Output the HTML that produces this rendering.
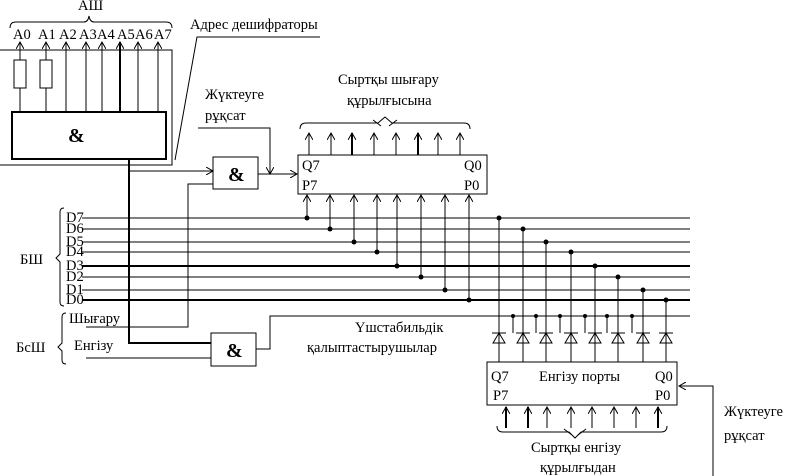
<!DOCTYPE html>
<html><head><meta charset="utf-8"><style>
html,body{margin:0;padding:0;background:#fff;}
svg{display:block;font-family:"Liberation Serif",serif;}
text{font-size:14.5px;fill:#000;}
</style></head><body>
<svg width="786" height="476" viewBox="0 0 786 476" xmlns="http://www.w3.org/2000/svg">
<defs>
<marker id="a" markerWidth="8" markerHeight="8" refX="7" refY="4" orient="auto" markerUnits="userSpaceOnUse">
<path d="M0,0 L7,4 L0,8" fill="none" stroke="#000" stroke-width="1"/></marker>
</defs>
<g stroke="#000" fill="none" stroke-width="1">
<text x="78" y="10" stroke="none">АШ</text>
<path d="M10,28 Q10,22 16,22 L84,22 Q88,22 89,16 Q90,22 94,22 L166,22 Q172,22 172,28"/>
<path d="M0,50 H172 V165 H0"/>
<rect x="12" y="112" width="154" height="47" stroke-width="2"/>
<text x="68" y="142" stroke="none" style="font-size:20px;font-weight:bold">&amp;</text>
<path d="M20,112 V88 M20,60 V42" marker-end="url(#a)"/>
<rect x="14" y="60" width="12" height="28"/>
<path d="M46,112 V88 M46,60 V42" marker-end="url(#a)"/>
<rect x="40" y="60" width="12" height="28"/>
<path d="M66,112 V42" marker-end="url(#a)"/>
<path d="M86,112 V42" marker-end="url(#a)"/>
<path d="M102,112 V42" marker-end="url(#a)"/>
<path d="M120,112 V42" stroke-width="2" marker-end="url(#a)"/>
<path d="M138,112 V42" marker-end="url(#a)"/>
<path d="M158,112 V42" marker-end="url(#a)"/>
<g stroke="none" style="font-size:13px">
<text x="13" y="39">А0</text><text x="38" y="39">А1</text><text x="59" y="39">А2</text><text x="79" y="39">А3</text>
<text x="97" y="39">А4</text><text x="117" y="39">А5</text><text x="135" y="39">А6</text><text x="154" y="39">А7</text>
</g>
<path d="M175,160 L197,37 H320"/>
<text x="190" y="29" stroke="none">Адрес дешифраторы</text>
<text x="205" y="99" stroke="none">Жүктеуге</text>
<text x="205" y="120" stroke="none">рұқсат</text>
<path d="M198,128 H270 V174" marker-end="url(#a)"/>
<rect x="213" y="157" width="45" height="32"/>
<text x="228" y="181" stroke="none" style="font-size:20px;font-weight:bold">&amp;</text>
<path d="M129,171 H213" marker-end="url(#a)"/>
<path d="M258,174 H297" marker-end="url(#a)"/>
<path d="M129,160 V343 H211" stroke-width="2"/>
<path d="M213,184 H188 V327 H86"/>
<text x="338" y="84" stroke="none">Сыртқы шығару</text>
<text x="347" y="105" stroke="none">құрылғысына</text>
<path d="M300,129 Q300,123 306,123 L378,123 L385,117 L392,123 L464,123 Q470,123 470,129"/>
<path d="M373,120 L381,126 M389,126 L397,120"/>
<rect x="298" y="155" width="189" height="39"/>
<g stroke="none"><text x="302" y="170">Q7</text><text x="302" y="190">P7</text><text x="464" y="170">Q0</text><text x="464" y="190">P0</text></g>
<g marker-end="url(#a)">
<path d="M309,155 V133"/><path d="M331,155 V133"/><path d="M352,155 V133" stroke-width="2"/><path d="M374,155 V133"/>
<path d="M396,155 V133"/><path d="M418,155 V133" stroke-width="2"/><path d="M438,155 V133"/><path d="M460,155 V133"/>
<path d="M307,218 V195"/><path d="M330,229 V195"/><path d="M354,242 V195"/><path d="M377,252 V195"/>
<path d="M397,266 V195"/><path d="M421,277 V195"/><path d="M445,290 V195"/><path d="M469,300 V195"/>
</g>
<path d="M82,218 H690 M82,229 H690 M82,242 H690 M82,252 H690 M82,277 H690 M82,290 H690"/>
<path d="M82,266 H690 M82,300 H690" stroke-width="2"/>
<g stroke="none" style="font-size:13px">
<text x="66" y="222">D7</text><text x="66" y="233">D6</text><text x="66" y="246">D5</text><text x="66" y="256">D4</text>
<text x="66" y="270">D3</text><text x="66" y="281">D2</text><text x="66" y="294">D1</text><text x="66" y="304">D0</text>
</g>
<text x="20" y="264" stroke="none">БШ</text>
<path d="M64,208 Q60,208 60,212 V254 L56,258 L60,262 V302 Q60,306 64,306"/>
<text x="16" y="352" stroke="none">БсШ</text>
<path d="M66,313 Q62,313 62,317 V343 L58,347 L62,351 V360 Q62,364 66,364"/>
<text x="69" y="323" stroke="none">Шығару</text>
<text x="74" y="350" stroke="none">Енгізу</text>
<path d="M86,358 H211"/>
<rect x="211" y="333" width="45" height="33"/>
<text x="226" y="357" stroke="none" style="font-size:20px;font-weight:bold">&amp;</text>
<path d="M256,349 H270 V316 H690"/>
<g fill="#000" stroke="none">
<circle cx="307" cy="218" r="2.5"/><circle cx="330" cy="229" r="2.5"/><circle cx="354" cy="242" r="2.5"/><circle cx="377" cy="252" r="2.5"/>
<circle cx="397" cy="266" r="2.5"/><circle cx="421" cy="277" r="2.5"/><circle cx="445" cy="290" r="2.5"/><circle cx="469" cy="300" r="2.5"/>
<circle cx="499" cy="218" r="2.5"/><circle cx="523" cy="229" r="2.5"/><circle cx="546" cy="242" r="2.5"/><circle cx="571" cy="252" r="2.5"/>
<circle cx="595" cy="266" r="2.5"/><circle cx="618" cy="277" r="2.5"/><circle cx="643" cy="290" r="2.5"/><circle cx="666" cy="300" r="2.5"/>
<circle cx="513" cy="316" r="2"/><circle cx="536" cy="316" r="2"/><circle cx="560" cy="316" r="2"/><circle cx="585" cy="316" r="2"/>
<circle cx="607" cy="316" r="2"/><circle cx="632" cy="316" r="2"/>
</g>
<path d="M499,218 V362 M523,229 V362 M546,242 V362 M571,252 V362 M595,266 V362 M618,277 V362 M643,290 V362 M666,300 V362"/>
<path d="M513,316 V333 M536,316 V333 M560,316 V333 M585,316 V333 M607,316 V333 M632,316 V333"/>
<g>
<path d="M492,333 H506 M493,343 L499,333 L505,343 Z"/>
<path d="M516,333 H530 M517,343 L523,333 L529,343 Z"/>
<path d="M539,333 H553 M540,343 L546,333 L552,343 Z"/>
<path d="M564,333 H578 M565,343 L571,333 L577,343 Z"/>
<path d="M588,333 H602 M589,343 L595,333 L601,343 Z"/>
<path d="M611,333 H625 M612,343 L618,333 L624,343 Z"/>
<path d="M636,333 H650 M637,343 L643,333 L649,343 Z"/>
<path d="M659,333 H673 M660,343 L666,333 L672,343 Z"/>
</g>
<text x="355" y="332" stroke="none">Үшстабильдік</text>
<text x="307" y="352" stroke="none">қалыптастырушылар</text>
<rect x="487" y="362" width="190" height="43"/>
<g stroke="none"><text x="491" y="381">Q7</text><text x="493" y="400">P7</text><text x="655" y="381">Q0</text><text x="655" y="400">P0</text>
<text x="539" y="381">Енгізу порты</text></g>
<g marker-end="url(#a)">
<path d="M506,428 V407" stroke-width="2"/><path d="M528,428 V407" stroke-width="2"/><path d="M547,428 V407"/><path d="M571,428 V407"/>
<path d="M592,428 V407"/><path d="M614,428 V407"/><path d="M636,428 V407"/><path d="M658,428 V407" stroke-width="2"/>
</g>
<path d="M497,426 Q497,432 503,432 L569,432 L575,438 L581,432 L661,432 Q667,432 667,426"/>
<path d="M564,429 L572,435 M578,435 L586,429"/>
<text x="531" y="452" stroke="none">Сыртқы енгізу</text>
<text x="540" y="472" stroke="none">құрылғыдан</text>
<path d="M713,476 V386 H679" marker-end="url(#a)"/>
<text x="724" y="416" stroke="none">Жүктеуге</text>
<text x="724" y="440" stroke="none">рұқсат</text>
</g>
</svg>
</body></html>
